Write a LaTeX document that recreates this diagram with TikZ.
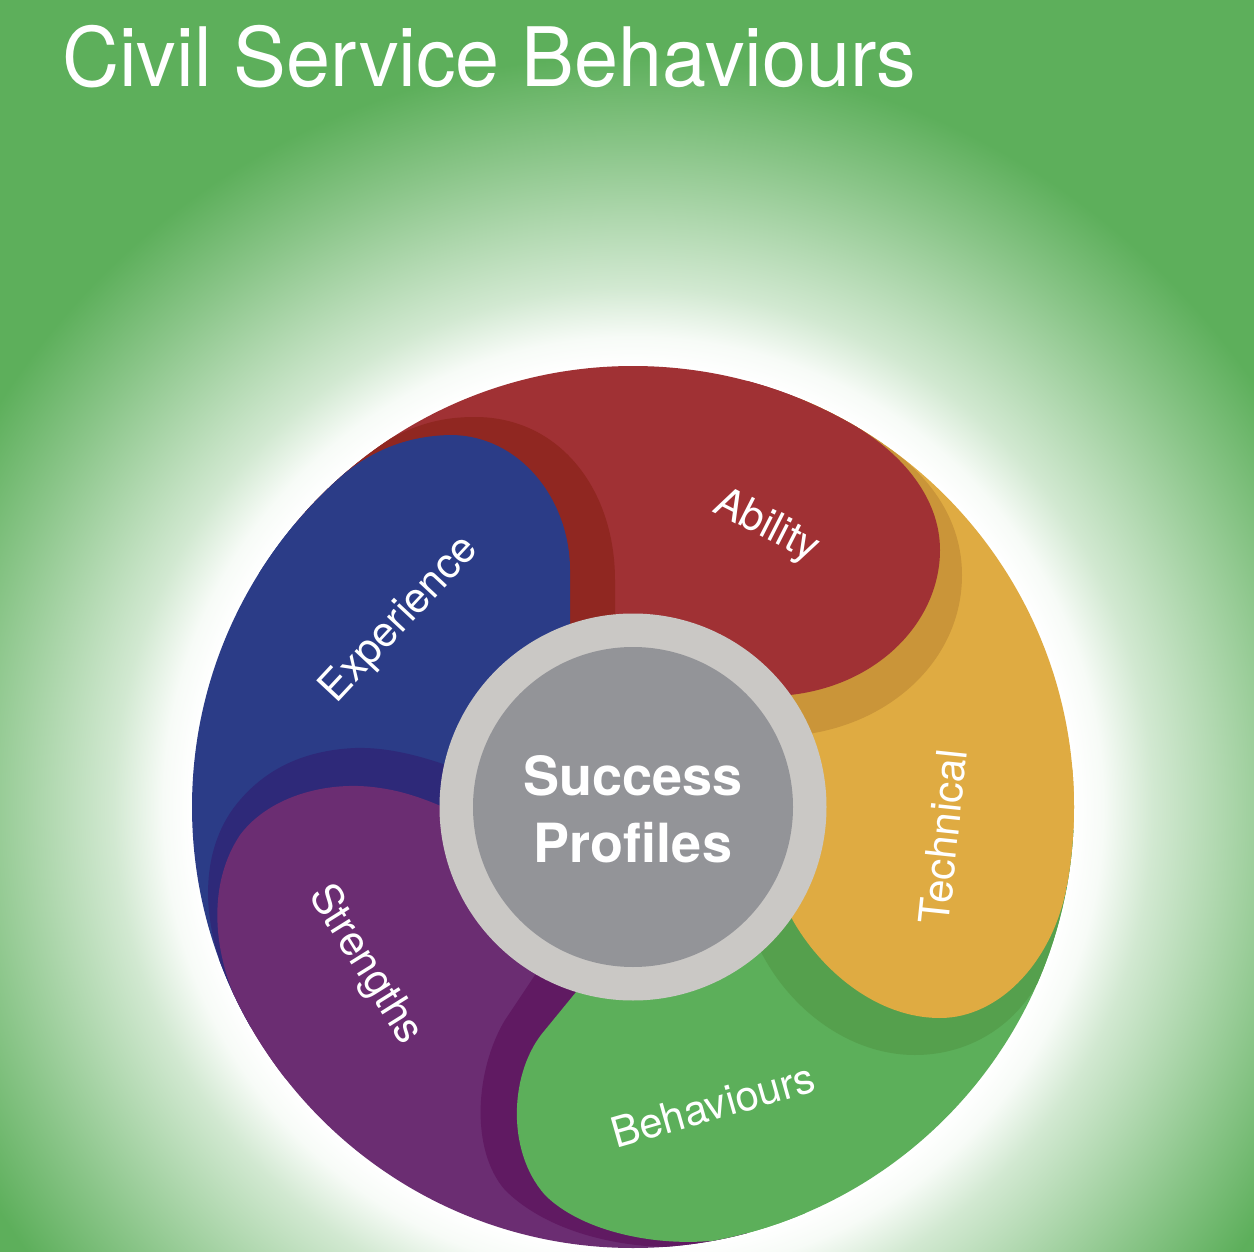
\documentclass[tikz,border=0pt]{standalone}
\usepackage{fontspec}
\setmainfont{TeX Gyre Heros}
\usetikzlibrary{calc}
\definecolor{bgg}{HTML}{5DAF5B}
\definecolor{pblue}{HTML}{2B3C87}
\definecolor{pdblue}{HTML}{2E2979}
\definecolor{pred}{HTML}{A03134}
\definecolor{pdred}{HTML}{902721}
\definecolor{pyel}{HTML}{DFAB42}
\definecolor{pdyel}{HTML}{CA9539}
\definecolor{pgreen}{HTML}{5CAF5A}
\definecolor{pdgreen}{HTML}{55A04D}
\definecolor{ppurp}{HTML}{6B2D72}
\definecolor{pdpurp}{HTML}{601A62}
\definecolor{ringc}{HTML}{CAC8C5}
\definecolor{corec}{HTML}{939498}
\colorlet{gla}{white!95!bgg}
\colorlet{glb}{white!72!bgg}
\colorlet{glc}{white!52!bgg}
\colorlet{gld}{white!28!bgg}
\pgfdeclareradialshading{glow}{\pgfpoint{0bp}{0bp}}{color(0bp)=(white); color(11.03bp)=(white); color(11.75bp)=(gla); color(13bp)=(glb); color(14.6bp)=(glc); color(16.5bp)=(gld); color(18.8bp)=(bgg); color(100bp)=(bgg)}
\begin{document}
\begin{tikzpicture}[x=1pt,y=-1pt,
  lbl/.style={text=white, font=\fontsize{42}{50}\selectfont, inner sep=0pt},
  ctr/.style={text=white, font=\bfseries\fontsize{54}{60}\selectfont, inner sep=0pt, anchor=base}]
\coordinate (C) at (633,807);
\useasboundingbox (0,0) rectangle (1254,1252);
\fill[bgg] (0,0) rectangle (1254,1252);
\begin{scope}
  \clip (0,0) rectangle (1254,1252);
  \shade[shading=glow] (C) circle[radius=1000];
\end{scope}
\begin{scope}
  \clip (C) circle[radius=441];
  % sectors
  \fill[pblue]  (C) -- +(150:520) arc[start angle=150,end angle=220,radius=520] -- cycle;
  \fill[pred]   (C) -- +(220:520) arc[start angle=220,end angle=293,radius=520] -- cycle;
  \fill[pyel]   (C) -- +(293:520) arc[start angle=293,end angle=363,radius=520] -- cycle;
  \fill[pgreen] (C) -- +(3:520) arc[start angle=3,end angle=75,radius=520] -- cycle;
  \fill[ppurp]  (C) -- +(75:520) arc[start angle=75,end angle=150,radius=520] -- cycle;
  % Experience head over Ability
  \fill[pdred] (386,441) .. controls (415,425) and (440,417) .. (475,417)
     .. controls (560,417) and (615,490) .. (615,580) -- (615,650) -- (C) -- ($(C)+(222:520)$) -- cycle;
  \fill[pblue] (328,488) .. controls (365,452) and (405,436) .. (450,435)
     .. controls (520,435) and (570,500) .. (570,570) -- (570,640) -- (C) -- ($(C)+(212:520)$) -- cycle;
  % Ability head over Technical
  \fill[pdyel] (883,444) .. controls (930,475) and (962,520) .. (962,575)
     .. controls (962,660) and (890,725) .. (800,735) -- (780,740) -- (C) -- ($(C)+(292:520)$) -- cycle;
  \fill[pred] (852,424) .. controls (905,455) and (940,500) .. (940,550)
     .. controls (940,620) and (880,685) .. (790,695) -- (760,700) -- (C) -- ($(C)+(285:520)$) -- cycle;
  % Technical head over Behaviours
  \fill[pdgreen] (1036,986) .. controls (1010,1030) and (965,1055) .. (915,1055)
     .. controls (850,1055) and (790,1010) .. (760,950) -- (745,915) -- (C) -- ($(C)+(3:520)$) -- cycle;
  \fill[pyel] (1068,880) .. controls (1055,960) and (1000,1018) .. (940,1018)
     .. controls (870,1018) and (810,960) .. (785,905) -- (770,880) -- (C) -- ($(C)+(355:520)$) -- cycle;
  % Behaviours head over Strengths
  \fill[pdpurp] (664,1247) .. controls (600,1245) and (540,1225) .. (505,1190)
     .. controls (470,1150) and (475,1070) .. (505,1020) -- (545,960) -- (C) -- ($(C)+(75:520)$) -- cycle;
  \fill[pgreen] (710,1241) .. controls (650,1246) and (580,1230) .. (545,1195)
     .. controls (505,1150) and (510,1070) .. (545,1030) -- (590,975) -- (C) -- ($(C)+(67:520)$) -- cycle;
  % Strengths head over Experience
  \fill[pdblue] (219,958) .. controls (200,900) and (205,840) .. (240,800)
     .. controls (270,765) and (310,750) .. (355,748)
     .. controls (390,747) and (425,757) .. (460,770) -- (C) -- ($(C)+(150:520)$) -- cycle;
  \fill[ppurp] (233,993) .. controls (212,940) and (210,880) .. (240,835)
     .. controls (270,795) and (330,780) .. (380,788)
     .. controls (410,792) and (440,805) .. (460,815) -- (C) -- ($(C)+(142:520)$) -- cycle;
\end{scope}
% centre
\fill[ringc] (C) circle[radius=193.5];
\fill[corec] (C) circle[radius=160];
% labels
\node[lbl, rotate=47]  (exp) at (400,620) {Experience};
\node[lbl, rotate=-27] (abi) at (766,527) {Ability};
\node[lbl, rotate=84]  (tec) at (943,837) {Technical};
\node[lbl, rotate=16]  (beh) at (713,1105) {Behaviours};
\node[lbl, rotate=-58] (str) at (365,965) {Strengths};
\node[ctr] (suc) at (633,795) {Success};
\node[ctr] (pro) at (633,862) {Profiles};
\node[text=white, font=\fontsize{82}{90}\selectfont, inner sep=0pt, anchor=base west, xscale=0.965] (title) at (62,87) {Civil Service Behaviours};
\end{tikzpicture}
\end{document}
